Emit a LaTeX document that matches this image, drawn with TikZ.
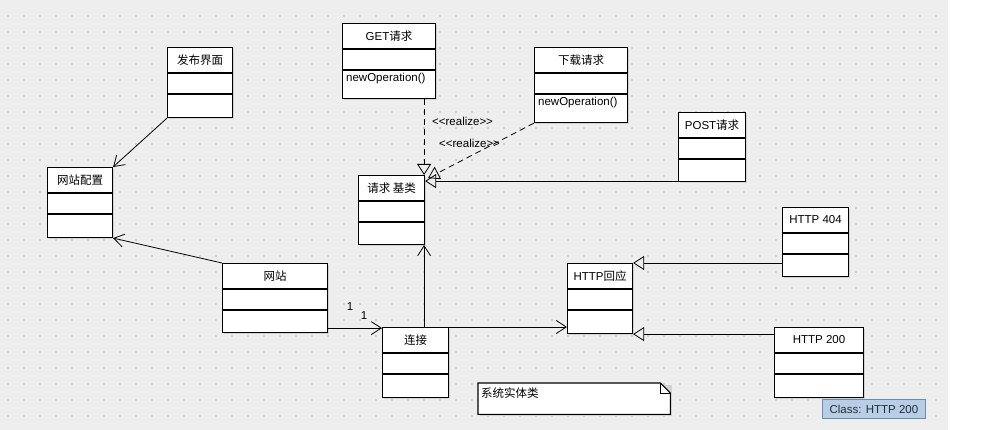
\documentclass[tikz,border=0pt]{standalone}
\usepackage{fontspec}
\setmainfont{Liberation Sans}
\newfontfamily\cjk{Noto Sans CJK SC}
\usetikzlibrary{arrows.meta}
\definecolor{bgc}{RGB}{238,238,238}
\definecolor{dotc}{RGB}{202,202,202}
\definecolor{tipfill}{RGB}{184,206,228}
\definecolor{tipdraw}{RGB}{110,140,175}
\definecolor{shadowc}{RGB}{210,210,210}
\tikzset{
  clsbox/.style={draw=black, fill=white, line width=1.1pt, inner sep=0pt, anchor=north west},
  clstitle/.style={font=\fontsize{11.5}{13}\selectfont, inner sep=0pt},
  clsop/.style={font=\fontsize{11.5}{13}\selectfont, anchor=north west, inner sep=0pt},
  assoc/.style={line width=0.8pt, -{Straight Barb[length=10pt,width=13pt]}},
  genz/.style={line width=0.8pt, -{Triangle[open,length=11pt,width=14pt]}},
  realz/.style={genz, dash pattern=on 6pt off 4pt},
  lbl/.style={font=\fontsize{11.5}{13}\selectfont, inner sep=0pt},
}
\newcommand\classbox[6]{%
  \fill[shadowc] (#2+2,#3+2) rectangle ++(#4,#5);
  \node[clsbox, minimum width=#4pt, minimum height=#5pt] (#1) at (#2,#3) {};
  \draw[line width=1.1pt] ([yshift=-26pt]#1.north west) -- ([yshift=-26pt]#1.north east);
  \draw[line width=1.1pt] ([yshift=-47pt]#1.north west) -- ([yshift=-47pt]#1.north east);
  \node[clstitle] (#1-t) at ([yshift=-13pt]#1.north) {#6};
}
\begin{document}
\begin{tikzpicture}[x=1pt,y=-1pt]
\useasboundingbox (0,0) rectangle (993,430);
\fill[white] (0,0) rectangle (993,430);
\fill[bgc] (0,0) rectangle (948,430);
\foreach \x in {7,23,...,943} {
  \foreach \y in {15,31,...,430} {
    \fill[dotc] (\x,\y) rectangle ++(1.6,1.6);
  }
}
% classes
\classbox{pub}{167}{47}{65}{70}{\cjk 发布界面}
\classbox{cfg}{47}{167}{65}{70}{\cjk 网站配置}
\classbox{get}{342}{23}{93}{75}{GET\cjk 请求}
\classbox{dl}{534}{47}{93}{75}{\cjk 下载请求}
\classbox{base}{358}{175}{66}{69}{\cjk 请求 基类}
\classbox{post}{678}{112}{67}{69}{POST\cjk 请求}
\classbox{site}{222}{263}{105}{69}{\cjk 网站}
\classbox{conn}{382}{327}{66}{70}{\cjk 连接}
\classbox{resp}{567}{263}{65}{70}{HTTP\cjk 回应}
\classbox{r404}{782}{207}{66}{69}{HTTP 404}
\classbox{r200}{774}{327}{89}{70}{HTTP 200}
\node[clsop] (get-op) at ([xshift=4pt,yshift=-50pt]get.north west) {newOperation()};
\node[clsop] (dl-op) at ([xshift=4pt,yshift=-50pt]dl.north west) {newOperation()};
% connectors
\draw[assoc] (pub.south west) -- (cfg.north east);
\draw[assoc] (site.north west) -- (cfg.south east);
\draw[assoc] ([yshift=5pt]site.south east) -- ([yshift=5pt]site.south east -| conn.west);
\draw[assoc] ([xshift=-25pt]conn.north east) -- ([xshift=-1pt]base.south east);
\draw[assoc] (conn.north east) -- (conn.north east -| resp.west);
\draw[genz] ([yshift=1pt]post.south west) -- ([yshift=1pt]post.south west -| base.east);
\draw[realz] ([xshift=-12pt]get.south east) -- ([xshift=-1pt]base.north east);
\draw[realz] (dl.south west) -- ([xshift=3pt,yshift=-3pt]base.north east);
\draw[genz] (resp.north east -| r404.west) -- (resp.north east);
\draw[genz] (resp.south east -| r200.west) -- (resp.south east);
% labels
\node[lbl, anchor=west] (rl1) at (432,121) {<{}<realize>{}>};
\node[lbl, anchor=west] (rl2) at (439,143) {<{}<realize>{}>};
\node[lbl] (m1) at (350,307) {1};
\node[lbl] (m2) at (364,316) {1};
% note
\node[anchor=north west, minimum width=192pt, minimum height=31pt, inner sep=0pt] (note) at (478,383) {};
\fill[shadowc] (480,385) rectangle (672,416);
\draw[fill=white, line width=1.1pt] (note.north west) -- ([xshift=-10pt]note.north east) -- ([yshift=-10pt]note.north east) -- (note.south east) -- (note.south west) -- cycle;
\draw[line width=0.8pt] ([xshift=-10pt]note.north east) -- ([xshift=-10pt,yshift=-10pt]note.north east) -- ([yshift=-10pt]note.north east);
\node[clsop] (note-t) at ([xshift=3pt,yshift=-5pt]note.north west) {\cjk 系统实体类};
% tooltip
\node[fill=tipfill, draw=tipdraw, line width=0.8pt, anchor=north west, minimum width=103pt, minimum height=19pt, inner sep=0pt, text={rgb,255:red,40;green,45;blue,60}, font=\fontsize{11.5}{13}\selectfont] (tip) at (822,399) {Class: HTTP 200};
\end{tikzpicture}
\end{document}
